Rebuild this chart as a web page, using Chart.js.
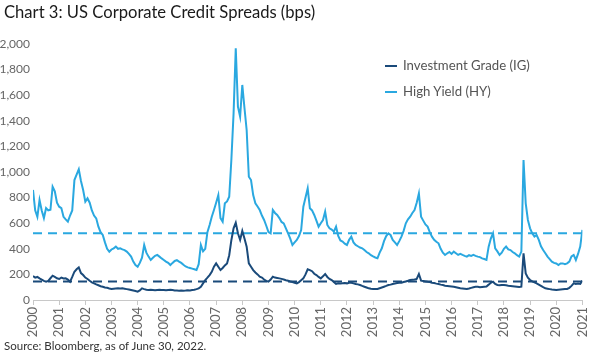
<!DOCTYPE html>
<html>
<head>
<meta charset="utf-8">
<script src="https://cdn.jsdelivr.net/npm/chart.js@4/dist/chart.umd.min.js"></script>
<style>
  html, body { margin: 0; padding: 0; background: #fff; }
  #wrap { position: relative; width: 600px; height: 353px; font-family: Lato, "Noto Sans", sans-serif; }
  #title { position: absolute; left: 4px; top: 2px; font-size: 16.6px; color: #1a1a1a; white-space: nowrap; }
  #source { position: absolute; left: 4px; top: 339px; font-size: 11.5px; color: #333; white-space: nowrap; }
  #legend { position: absolute; left: 385px; top: 56px; font-size: 13.2px; color: #555; }
  #legend div { height: 26px; line-height: 18px; white-space: nowrap; }
  #legend span.mk { display: inline-block; width: 12px; height: 2px; vertical-align: middle; margin-right: 6px; position: relative; top: -1px; }
  canvas { position: absolute; left: 0; top: 0; }
</style>
</head>
<body>
<div id="wrap">
  <canvas id="spreadChart" width="600" height="353"></canvas>
  <div id="title">Chart 3: US Corporate Credit Spreads (bps)</div>
  <div id="legend"></div>
  <div id="source">Source: Bloomberg, as of June 30, 2022.</div>
</div>
<script>
//DATA
var years = ["2000", "2001", "2002", "2003", "2004", "2005", "2006", "2007", "2008", "2009", "2010",
    "2011", "2012", "2013", "2014", "2015", "2016", "2017", "2018", "2019", "2020", "2021"];

// monthly points, 12 per year label, last point on the 2021 tick
var highYield = [
    860, 700, 650, 781, 700, 640, 718, 700, 705, 885, 850, 760,
    729, 718, 650, 630, 612, 660, 700, 937, 980, 1021, 930, 859,
    768, 794, 760, 700, 660, 638, 573, 530, 508, 450, 400, 378,
    395, 404, 417, 400, 404, 395, 390, 378, 360, 339, 300, 273,
    260, 290, 330, 430, 370, 339, 313, 330, 345, 352, 339, 325,
    313, 300, 290, 273, 290, 305, 312, 300, 290, 275, 262, 255,
    250, 245, 240, 234, 280, 430, 380, 400, 530, 586, 650, 703,
    760, 820, 640, 612, 755, 770, 807, 1100, 1458, 1966, 1510, 1432,
    1680, 1500, 1328, 963, 937, 820, 755, 730, 703, 660, 625, 580,
    530, 521, 703, 680, 664, 640, 610, 599, 560, 521, 480, 430,
    450, 469, 500, 547, 729, 800, 872, 716, 700, 664, 620, 573,
    600, 625, 690, 586, 560, 550, 534, 573, 500, 465, 456, 440,
    430, 470, 495, 450, 430, 420, 410, 404, 390, 375, 365, 350,
    340, 332, 326, 370, 404, 460, 500, 521, 508, 469, 450, 430,
    460, 495, 540, 599, 630, 651, 680, 703, 760, 833, 651, 620,
    590, 573, 530, 495, 470, 455, 443, 400, 370, 352, 365, 375,
    360, 378, 365, 352, 360, 352, 345, 339, 350, 345, 352, 345,
    339, 335, 325, 320, 313, 417, 480, 521, 404, 380, 352, 370,
    400, 417, 395, 390, 375, 365, 350, 339, 378, 1094, 755, 625,
    560, 521, 495, 508, 470, 420, 390, 365, 339, 320, 300, 290,
    285, 273, 285, 286, 280, 286, 300, 340, 352, 313, 360, 417,
    547
];

var investmentGrade = [
    187, 175, 180, 169, 160, 150, 143, 150, 170, 190, 180, 170,
    164, 175, 168, 169, 160, 143, 180, 221, 240, 255, 210, 195,
    175, 164, 150, 138, 130, 122, 115, 108, 104, 98, 95, 90,
    86, 88, 90, 92, 90, 91, 88, 85, 82, 78, 74, 70,
    65, 75, 91, 85, 80, 78, 80, 78, 76, 78, 80, 78,
    78, 76, 78, 80, 78, 75, 74, 73, 75, 73, 74, 76,
    75, 78, 80, 85, 91, 104, 130, 156, 175, 195, 220, 260,
    286, 260, 234, 250, 270, 286, 350, 469, 560, 604, 521, 469,
    539, 480, 417, 286, 260, 234, 215, 200, 182, 175, 160, 150,
    143, 160, 182, 175, 172, 169, 165, 160, 155, 151, 145, 140,
    135, 130, 140, 155, 169, 200, 240, 234, 225, 205, 195, 180,
    169, 185, 203, 180, 165, 156, 140, 125, 130, 128, 130, 132,
    130, 135, 135, 130, 125, 122, 117, 110, 104, 98, 91, 88,
    86, 85, 86, 92, 98, 104, 110, 117, 120, 125, 128, 132,
    135, 135, 140, 145, 150, 156, 158, 160, 165, 203, 151, 148,
    145, 142, 140, 135, 132, 128, 125, 120, 117, 112, 110, 108,
    106, 104, 100, 96, 92, 90, 88, 86, 90, 95, 100, 104,
    104, 100, 102, 104, 106, 120, 135, 143, 125, 117, 115, 118,
    117, 115, 112, 110, 108, 106, 104, 102, 104, 365, 208, 175,
    156, 145, 138, 130, 120, 110, 100, 91, 88, 85, 82, 80,
    78, 80, 82, 84, 86, 86, 95, 110, 130, 125, 128, 125,
    151
];

var hyAverage = 521;
var igAverage = 145;

var igColor = "#1a4a7a";
var hyColor = "#2aa8e0";

//INDEX LABELS FOR THE LINEAR X AXIS
var monthIndex = [];
for (var i = 0; i < highYield.length; i++) {
    monthIndex.push(i);
}

//DASHED AVERAGE LINES
var averageLines = {
    id: "averageLines",
    beforeDatasetsDraw: function(chart) {
        var c = chart.ctx;
        var area = chart.chartArea;
        var y = chart.scales.y;
        [[hyAverage, hyColor], [igAverage, igColor]].forEach(function(a) {
            var py = y.getPixelForValue(a[0]);
            c.save();
            c.strokeStyle = a[1];
            c.lineWidth = 2;
            c.setLineDash([9, 6]);
            c.beginPath();
            c.moveTo(area.left, py);
            c.lineTo(area.right, py);
            c.stroke();
            c.restore();
        });
    }
};

var ctx = document.getElementById("spreadChart").getContext("2d");
var spreadChart = new Chart(ctx, {
    type: "line",
    data: {
        labels: monthIndex,
        datasets: [{
            label: "Investment Grade (IG)",
            data: investmentGrade,
            borderColor: igColor,
            borderWidth: 2,
            pointRadius: 0,
            tension: 0
        }, {
            label: "High Yield (HY)",
            data: highYield,
            borderColor: hyColor,
            borderWidth: 2,
            pointRadius: 0,
            tension: 0
        }]
    },
    options: {
        animation: false,
        responsive: false,
        layout: {
            padding: { top: 44, right: 7, left: 0, bottom: 0 }
        },
        plugins: {
            legend: { display: false },
            tooltip: { enabled: false }
        },
        scales: {
            x: {
                type: "linear",
                min: 0,
                max: 252,
                afterFit: function(scale) { scale.height = 53; },
                grid: {
                    display: true,
                    drawOnChartArea: false,
                    drawTicks: true,
                    tickLength: 5,
                    color: "#c8c8c8"
                },
                border: { display: true, color: "#c8c8c8", width: 1 },
                ticks: {
                    stepSize: 12,
                    autoSkip: false,
                    minRotation: 90,
                    maxRotation: 90,
                    padding: 2,
                    color: "#666",
                    font: { family: "Lato", size: 13 },
                    callback: function(value) {
                        return years[value / 12];
                    }
                }
            },
            y: {
                min: 0,
                max: 2000,
                afterFit: function(scale) { scale.width = 33; },
                grid: { display: false, drawTicks: false },
                border: { display: false },
                ticks: {
                    stepSize: 200,
                    padding: 3,
                    color: "#666",
                    font: { family: "Lato", size: 12 },
                    callback: function(value) {
                        return value.toLocaleString("en-US");
                    }
                }
            }
        }
    },
    plugins: [averageLines]
});

//HTML LEGEND
var legend = document.getElementById("legend");
spreadChart.data.datasets.forEach(function(ds) {
    var row = document.createElement("div");
    var mk = document.createElement("span");
    mk.className = "mk";
    mk.style.background = ds.borderColor;
    row.appendChild(mk);
    row.appendChild(document.createTextNode(ds.label));
    legend.appendChild(row);
});
</script>
</body>
</html>
